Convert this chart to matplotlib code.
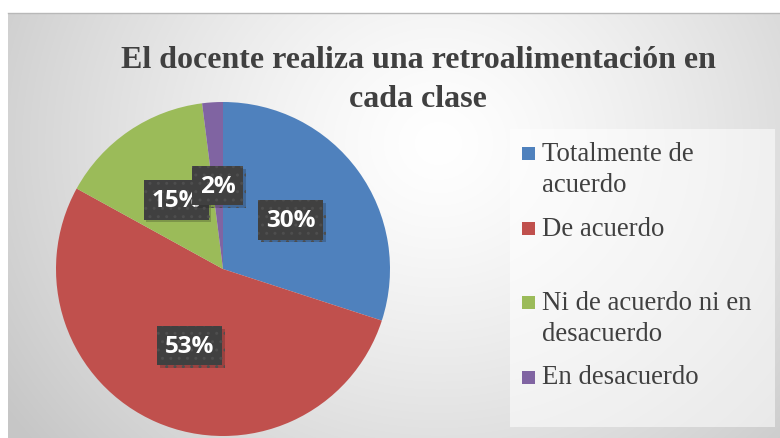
import matplotlib.pyplot as plt
import matplotlib.patheffects as pe
from matplotlib.patches import Rectangle
import numpy as np

W, H = 780, 439

title = "El docente realiza una retroalimentación en\ncada clase"
labels = ["Totalmente de\nacuerdo", "De acuerdo", "Ni de acuerdo ni en\ndesacuerdo", "En desacuerdo"]
values = [30, 53, 15, 2]
colors = ["#4F81BD", "#C0504D", "#9BBB59", "#8064A2"]

fig = plt.figure(figsize=(W / 100, H / 100), dpi=100)
fig.patch.set_facecolor("white")

# background of the chart area: soft radial grey gradient
bg = fig.add_axes([8 / W, 0, (W - 8) / W, (H - 14) / H])
yy, xx = np.mgrid[0:425, 0:772]
d = np.sqrt((xx - 430) ** 2 + ((yy - 130) * 1.1) ** 2) / 520
g = 1.0 - np.clip(d, 0, 1) ** 1.3 * 0.22
bg.imshow(np.dstack([g, g, g]), extent=[0, 772, 425, 0], aspect="auto")
bg.set_xticks([])
bg.set_yticks([])
for s in ["left", "right", "bottom"]:
    bg.spines[s].set_visible(False)
bg.spines["top"].set_color("#b8b8b8")
bg.spines["top"].set_linewidth(1)

# pie
r = 167
ax = fig.add_axes([(223 - r) / W, (169 - r) / H, 2 * r / W, 2 * r / H])
wedges, texts, autotexts = ax.pie(values, colors=colors, startangle=90, counterclock=False,
                                  autopct=lambda p: f"{p:.0f}%", pctdistance=0.5,
                                  wedgeprops=dict(linewidth=0),
                                  textprops=dict(color="white", fontsize=17.5,
                                                 fontweight="bold", family="Open Sans"))
ax.set_xlim(-1, 1)
ax.set_ylim(-1, 1)
ax.set_aspect("equal")
ax.axis("off")
for t in autotexts:
    t.set_bbox(dict(boxstyle="square,pad=0.32", facecolor="#404040", edgecolor="#4e4e4e",
                    hatch="..", linewidth=0))
    t.get_bbox_patch().set_path_effects([pe.SimplePatchShadow(offset=(2, -2), alpha=0.22),
                                         pe.Normal()])

# title
fig.text(418 / W, 1 - 80 / H, title, ha="center", va="center", multialignment="center",
         fontsize=23, fontweight="bold", family="Liberation Serif", color="#404040",
         linespacing=1.45)

# legend box
lg = fig.add_axes([510 / W, (H - 428) / H, 265 / W, 298 / H])
lg.set_xlim(0, 265)
lg.set_ylim(298, 0)
lg.axis("off")
lg.add_patch(Rectangle((0, 0), 265, 298, facecolor="white", alpha=0.55, linewidth=0))
slot = 74.5
for i, (lab, c) in enumerate(zip(labels, colors)):
    top = 12 + i * slot
    lg.add_patch(Rectangle((12, top + 6), 13, 13, facecolor=c, linewidth=0))
    lg.text(32, top, lab, ha="left", va="top", fontsize=19.3, family="Liberation Serif",
            color="#404040", linespacing=1.3)

fig.savefig("out.png", dpi=100)
